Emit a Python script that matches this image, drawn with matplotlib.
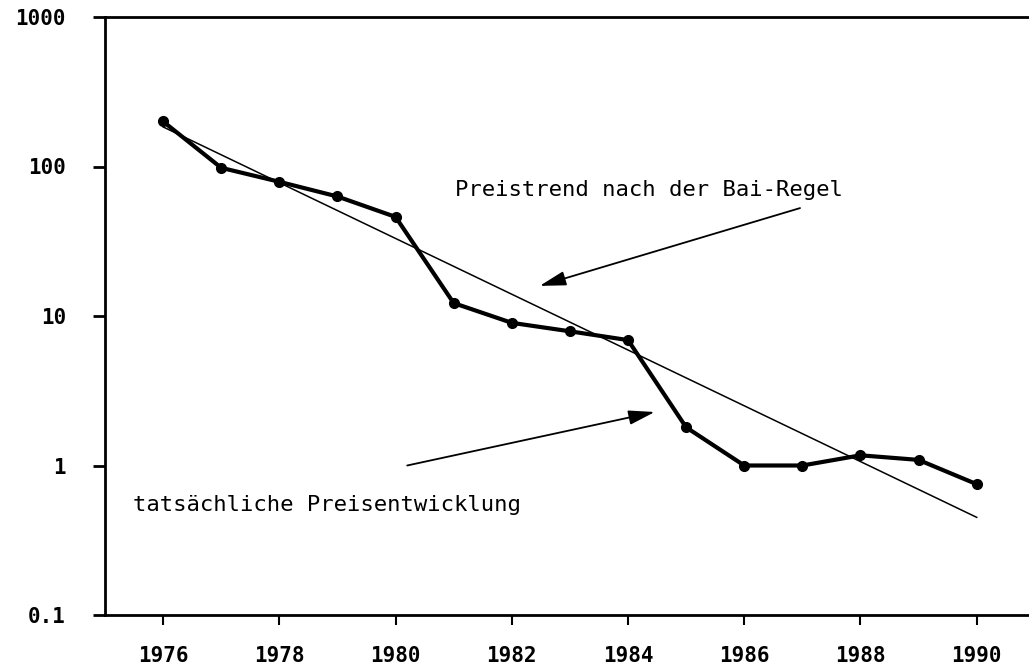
import matplotlib.pyplot as plt
from matplotlib.ticker import FixedLocator, NullLocator

# observed price development (log scale)
years = [1976, 1977, 1978, 1979, 1980, 1981, 1982, 1983,
         1984, 1985, 1986, 1987, 1988, 1989, 1990]
prices = [200, 98, 79, 63, 46, 12.2, 9.0, 7.9,
          6.9, 1.8, 1.0, 1.0, 1.17, 1.09, 0.75]

# trend line after the "Bai" rule (start and end)
trend_years = [1976, 1990]
trend_prices = [184, 0.45]

xticks = [1976, 1978, 1980, 1982, 1984, 1986, 1988, 1990]
yticks = [0.1, 1, 10, 100, 1000]
ytick_labels = ["0.1", "1", "10", "100", "1000"]

plt.rcParams["font.family"] = "DejaVu Sans Mono"

fig = plt.figure(figsize=(10.29, 6.72), dpi=100)
ax = fig.add_axes([105 / 1029, 57 / 672, 924 / 1029, 598 / 672])

ax.plot(trend_years, trend_prices, color="black", lw=1.1)
ax.plot(years, prices, color="black", lw=3, marker="o", markersize=7)

ax.set_yscale("log")
ax.set_xlim(1975, 1990.9)
ax.set_ylim(0.1, 1000)

ax.xaxis.set_major_locator(FixedLocator(xticks))
ax.set_xticklabels([str(x) for x in xticks])
ax.yaxis.set_major_locator(FixedLocator(yticks))
ax.yaxis.set_minor_locator(NullLocator())
ax.set_yticklabels(ytick_labels)

for s in ["left", "bottom", "top"]:
    ax.spines[s].set_linewidth(2)
ax.spines["right"].set_visible(False)

ax.tick_params(axis="y", direction="out", length=9, width=2, pad=19,
               labelsize=15)
ax.tick_params(axis="x", direction="out", length=7, width=1.5, pad=15,
               labelsize=15)
for lbl in ax.get_xticklabels() + ax.get_yticklabels():
    lbl.set_fontweight("bold")

arrow = dict(arrowstyle="-|>,head_length=0.8,head_width=0.22",
             color="black", lw=1.3, mutation_scale=20, shrinkA=0, shrinkB=0)
ax.annotate("", xy=(1982.48, 15.9), xytext=(1986.96, 52.7),
            arrowprops=arrow)
ax.annotate("", xy=(1984.46, 2.28), xytext=(1980.2, 1.0),
            arrowprops=arrow)

ax.text(1981.02, 69.6, "Preistrend nach der Bai-Regel", fontsize=16,
        ha="left", va="center")
ax.text(1975.48, 0.544, "tatsächliche Preisentwicklung", fontsize=16,
        ha="left", va="center")

fig.savefig("out.png", dpi=100)
